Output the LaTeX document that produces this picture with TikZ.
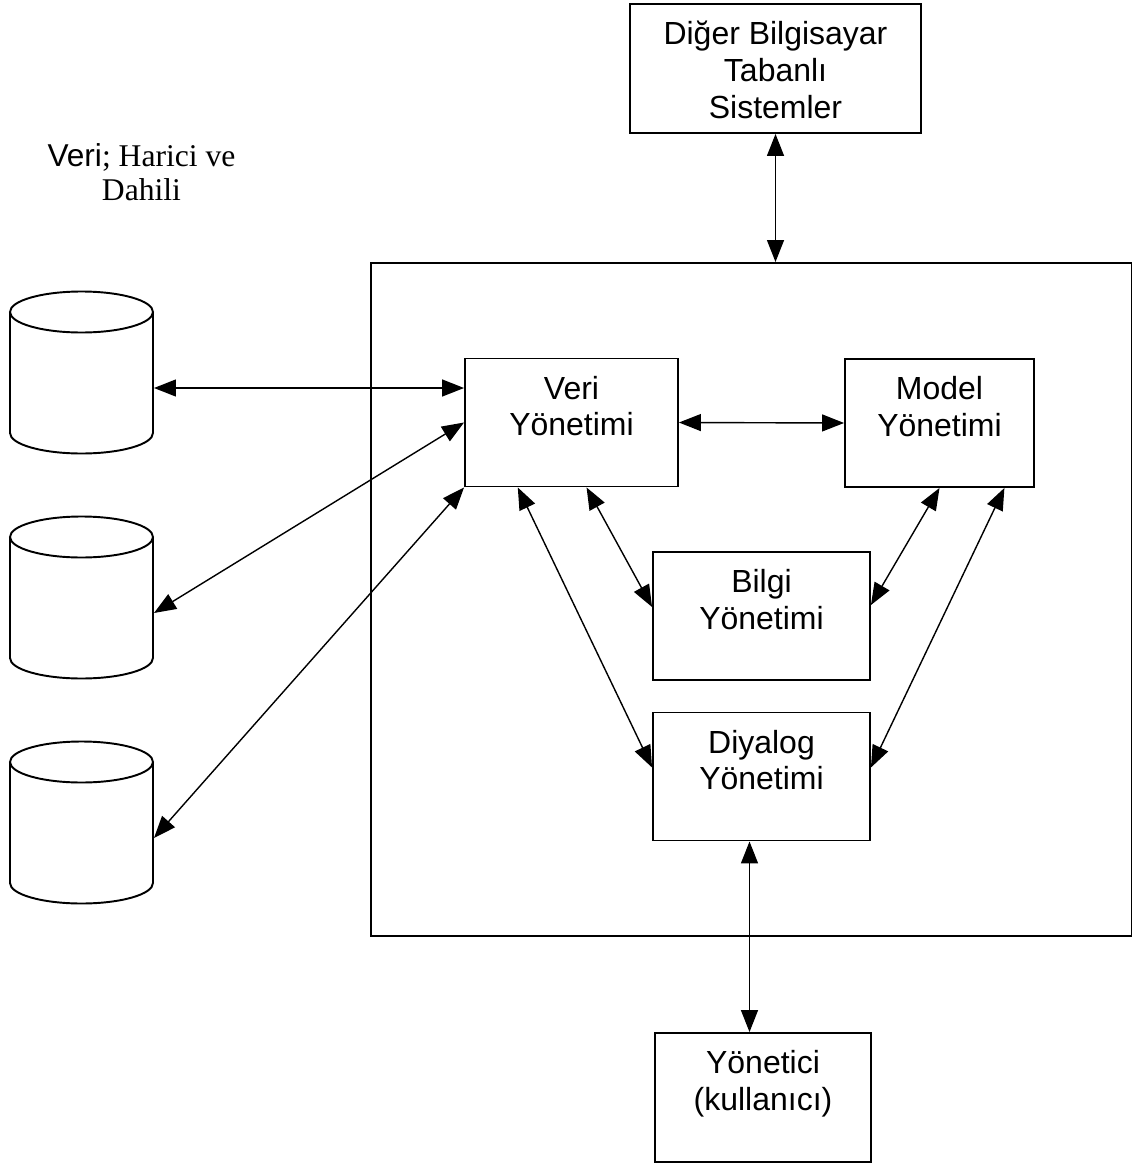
\documentclass[tikz,border=0pt]{standalone}
\usepackage{fontspec}
\setmainfont{Liberation Serif}
\setsansfont{Liberation Sans}
\usepackage{tikz}
\usetikzlibrary{arrows.meta,positioning,calc}
\newcommand{\boxfont}{\sffamily\fontsize{18.2}{21}\selectfont}
\tikzstyle{box}      = [draw, line width=1.1pt, minimum height=2.56cm, inner sep=0pt]
\tikzstyle{boxtext}  = [anchor=north, align=center, inner sep=0pt, yshift=-0.36cm, font=\boxfont]
\tikzstyle{cyl}      = [line width=1.1pt]
\tikzstyle{dblarrow} = [line width=0.8pt, <->, >={Triangle[length=0.44cm,width=0.34cm]}]

\begin{document}
\begin{tikzpicture}[x=0.02cm, y=-0.02cm]
        \useasboundingbox (0,0) rectangle (1132,1166);
        % data stores
        \foreach \n/\y/\c in {1/312/388, 2/537/613, 3/762/838}
        {
            \draw [cyl] (81.5,\y) ellipse (1.43cm and 0.41cm);
            \draw [cyl] (10,\y) -- (10,\y+121) arc (180:360:1.43cm and 0.41cm) -- (153,\y);
            \coordinate (C\n) at (154,\c);
        }
        \node[align=center, inner sep=0pt, font=\fontsize{18}{19.4}\selectfont] (veritxt) at (141.5,172.5) {{\sffamily Veri}; Harici ve\\Dahili};
        % outer frame
        \node[draw, line width=1.1pt, anchor=north west, minimum width=15.22cm, minimum height=13.46cm] (frame) at (370,262) {};
        \node[box, minimum width=5.82cm, minimum height=2.58cm, label={[boxtext]north:Diğer Bilgisayar\\Tabanlı\\Sistemler}] (diger) at (775.5,68.5) {};
        \node[box, minimum width=4.26cm, label={[boxtext]north:Veri\\Yönetimi}] (veri) at (571.5,422.5) {};
        \node[box, minimum width=3.78cm, label={[boxtext]north:Model\\Yönetimi}] (model) at (939.5,423) {};
        \node[box, minimum width=4.34cm, label={[boxtext]north:Bilgi\\Yönetimi}] (bilgi) at (761.5,616) {};
        \node[box, minimum width=4.34cm, label={[boxtext]north:Diyalog\\Yönetimi}] (diyalog) at (761.5,776.5) {};
        \node[box, minimum width=4.32cm, minimum height=2.58cm, label={[boxtext]north:Yönetici\\(kullanıcı)}] (yonetici) at (763,1097.5) {};
        % connections
        \draw[dblarrow] (C1) -- (veri.west |- C1);
        \draw[dblarrow] (C2) -- (veri.west);
        \draw[dblarrow] (C3) -- (veri.south west);
        \draw[dblarrow] (veri.east) -- (model.west);
        \draw[dblarrow] ($(veri.south west)!0.57!(veri.south east)$) -- ($(bilgi.west)+(0,-9)$);
        \draw[dblarrow] ($(veri.south west)!0.25!(veri.south east)$) -- ($(diyalog.west)+(0,-9)$);
        \draw[dblarrow] (model.south) -- ($(bilgi.east)+(0,-11)$);
        \draw[dblarrow] ($(model.south west)!0.84!(model.south east)$) -- ($(diyalog.east)+(0,-9)$);
        \draw[dblarrow] (diger.south) -- (diger.south |- frame.north);
        \draw[dblarrow] ($(diyalog.south)+(-12,0)$) coordinate (dy) -- (dy |- yonetici.north);
\end{tikzpicture}
\end{document}
